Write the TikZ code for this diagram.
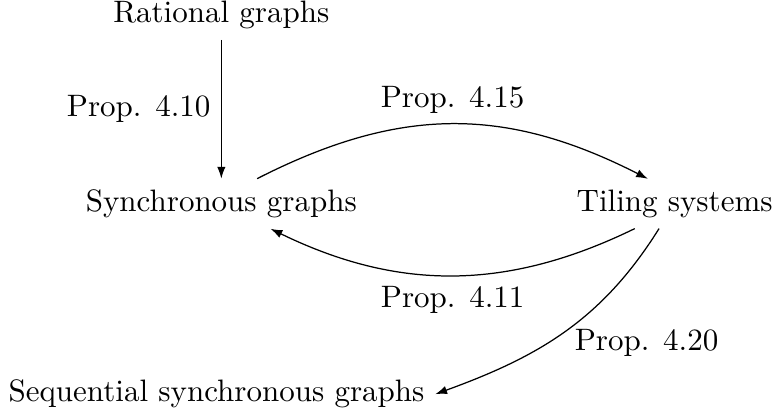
\documentclass[tikz,border=0pt]{standalone}
\usepackage{tikz}
\usetikzlibrary{arrows.meta}

\begin{document}
\begin{tikzpicture}[
        every node/.style={align=center},
        cls/.style={inner sep=3.33pt},
        prop/.style={inner sep=3.33pt},
        arr/.style={-{Latex[length=3.8pt, width=2.7pt]}, line width=0.4pt}
    ]
    \useasboundingbox (0,0) rectangle (8.80,-4.73);

    \node[cls] (rat) at (2.51,-0.17) {Rational graphs};
    \node[cls] (sync) at (2.51,-2.31) {Synchronous graphs};
    \node[cls] (til) at (7.65,-2.31) {Tiling systems};
    \node[cls] (seq) at (2.455,-4.47) {Sequential synchronous graphs};

    \draw[arr] (rat) -- node[prop, left] {Prop. 4.10} (sync);
    \draw[arr] (sync.35) to[out=27, in=153, looseness=1.05]
        node[prop, above] {Prop. 4.15} (til.137);
    \draw[arr] (til.-148) to[out=206, in=-26]
        node[prop, below] {Prop. 4.11} (sync.-27);
    \draw[arr] (til.-122) to[out=238, in=20]
        node[prop, right, yshift=-3.5pt] {Prop. 4.20} (seq.east);
\end{tikzpicture}
\end{document}
